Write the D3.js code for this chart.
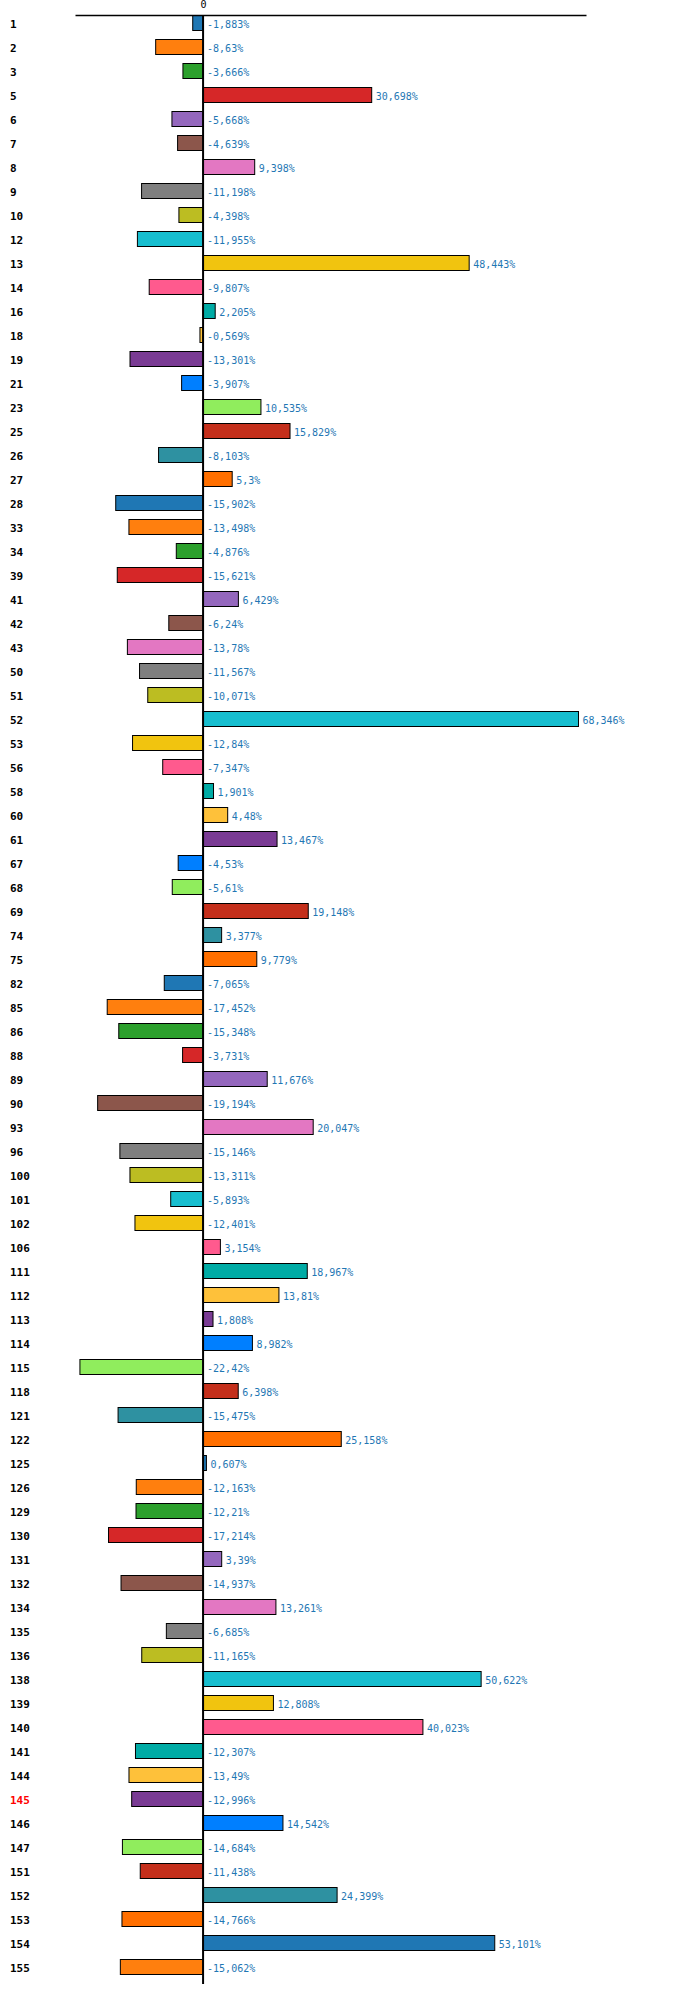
<!DOCTYPE html>
<html>
<head>
<meta charset="utf-8">
<script src="https://d3js.org/d3.v7.min.js"></script>
<style>
  body { margin: 0; background: #fff; }
  text { font-family: "DejaVu Sans Mono", monospace; }
  text.row { font-size: 11px; font-weight: bold; fill: #000; }
  text.row.hot { fill: #ff0000; }
  text.value { font-size: 10px; fill: #1f77b4; }
  rect.bar { stroke: #000; stroke-width: 1; }
  .axis path { stroke: #000; stroke-width: 1.3; }
  .axis text { font-size: 10px; fill: #000; }
  line.zero { stroke: #000; stroke-width: 2; }
</style>
</head>
<body>
<svg id="chart" width="700" height="2013"></svg>
<script>
  // rows, top to bottom
  var categories = ['1', '2', '3', '5', '6', '7', '8', '9', '10', '12',
    '13', '14', '16', '18', '19', '21', '23', '25', '26', '27',
    '28', '33', '34', '39', '41', '42', '43', '50', '51', '52',
    '53', '56', '58', '60', '61', '67', '68', '69', '74', '75',
    '82', '85', '86', '88', '89', '90', '93', '96', '100', '101',
    '102', '106', '111', '112', '113', '114', '115', '118', '121', '122',
    '125', '126', '129', '130', '131', '132', '134', '135', '136', '138',
    '139', '140', '141', '144', '145', '146', '147', '151', '152', '153',
    '154', '155'];

  // percent change per row
  var values = [-1.883, -8.63, -3.666, 30.698, -5.668, -4.639, 9.398, -11.198, -4.398, -11.955,
    48.443, -9.807, 2.205, -0.569, -13.301, -3.907, 10.535, 15.829, -8.103, 5.3,
    -15.902, -13.498, -4.876, -15.621, 6.429, -6.24, -13.78, -11.567, -10.071, 68.346,
    -12.84, -7.347, 1.901, 4.48, 13.467, -4.53, -5.61, 19.148, 3.377, 9.779,
    -7.065, -17.452, -15.348, -3.731, 11.676, -19.194, 20.047, -15.146, -13.311, -5.893,
    -12.401, 3.154, 18.967, 13.81, 1.808, 8.982, -22.42, 6.398, -15.475, 25.158,
    0.607, -12.163, -12.21, -17.214, 3.39, -14.937, 13.261, -6.685, -11.165, 50.622,
    12.808, 40.023, -12.307, -13.49, -12.996, 14.542, -14.684, -11.438, 24.399, -14.766,
    53.101, -15.062];

  var highlighted = ['145'];

  var palette = ['#1f77b4', '#ff7f0e', '#2ca02c', '#d62728', '#9467bd',
    '#8c564b', '#e377c2', '#7f7f7f', '#bcbd22', '#17becf',
    '#f1c40f', '#ff5a8e', '#00aba5', '#fec13a', '#7a3b94',
    '#007fff', '#90ed5d', '#c42f1b', '#2e91a1', '#ff6f00'];

  var tickValues = [0];

  var data = categories.map(function(c, i) {
    return { cat: c, value: values[i], idx: i };
  });

  var svg = d3.select('#chart');

  var x = d3.scaleLinear()
    .domain([d3.min(values) * 1.04, d3.max(values) * 1.02])
    .range([75, 586]);

  var y = d3.scaleBand()
    .domain(categories)
    .range([11, 11 + 24 * categories.length])
    .paddingInner(0.375)
    .paddingOuter(0.1875);

  var color = d3.scaleOrdinal()
    .domain(d3.range(palette.length))
    .range(palette);

  // bars
  svg.append('g').selectAll('rect')
      .data(data)
    .enter().append('rect')
      .attr('class', 'bar')
      .attr('x', function(d) { return x(Math.min(0, d.value)); })
      .attr('y', function(d) { return y(d.cat); })
      .attr('width', function(d) { return Math.abs(x(d.value) - x(0)); })
      .attr('height', y.bandwidth())
      .attr('fill', function(d) { return color(d.idx % palette.length); });

  // top axis
  svg.append('g')
    .attr('class', 'axis')
    .attr('transform', 'translate(0,15)')
    .call(d3.axisTop(x).tickValues(tickValues).tickSize(0).tickPadding(7).tickFormat(d3.format('d')))
    .call(function(g) { g.select('.domain').attr('stroke-width', 1.3); })
    .selectAll('text')
      .attr('font-family', '"DejaVu Sans Mono", monospace')
      .attr('font-size', 10);

  // zero line
  svg.append('line')
    .attr('class', 'zero')
    .attr('x1', x(0))
    .attr('x2', x(0))
    .attr('y1', 15)
    .attr('y2', y.range()[1] + 5);

  // row labels
  svg.append('g').selectAll('text')
      .data(data)
    .enter().append('text')
      .attr('class', function(d) { return highlighted.indexOf(d.cat) >= 0 ? 'row hot' : 'row'; })
      .attr('x', 10)
      .attr('y', function(d) { return y(d.cat) + y.bandwidth() / 2 + 5; })
      .text(function(d) { return d.cat; });

  // value labels
  svg.append('g').selectAll('text')
      .data(data)
    .enter().append('text')
      .attr('class', 'value')
      .attr('x', function(d) { return Math.max(x(d.value), x(0)) + 4; })
      .attr('y', function(d) { return y(d.cat) + y.bandwidth() / 2 + 4.5; })
      .text(function(d) { return String(d.value).replace('.', ',') + '%'; });
</script>
</body>
</html>
